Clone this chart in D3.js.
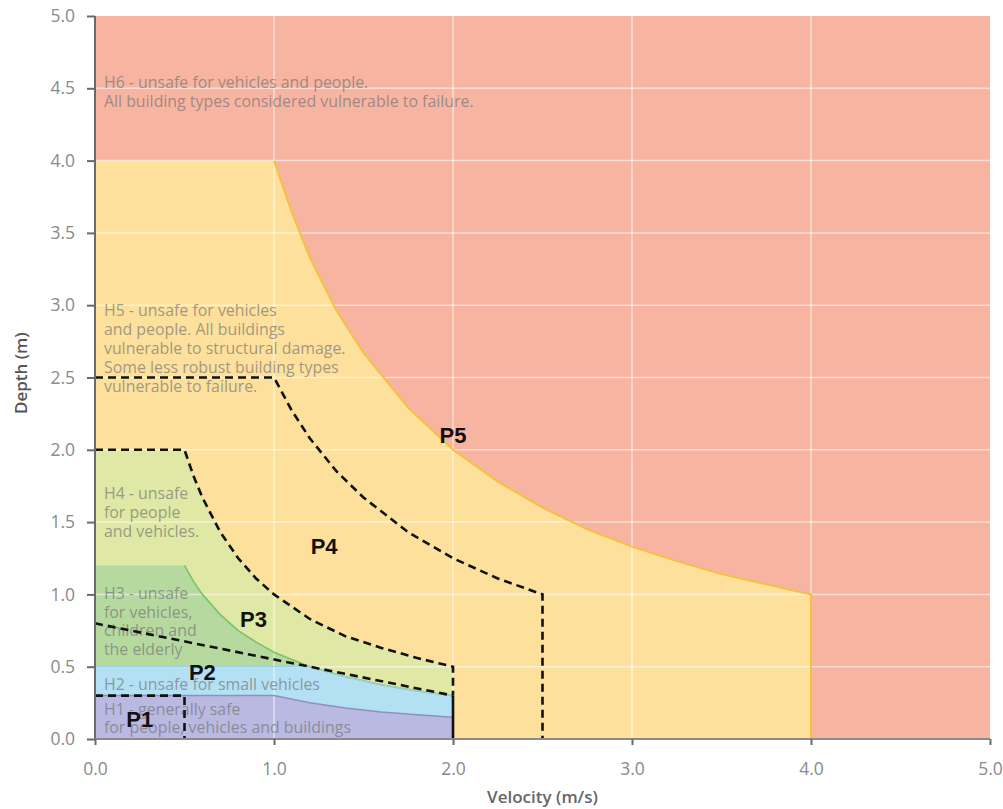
<!DOCTYPE html>
<html><head><meta charset="utf-8">
<script src="https://cdn.jsdelivr.net/npm/d3@7"></script>
<style>
body{margin:0;background:#fff;}
svg{display:block;font-family:"Open Sans",sans-serif;}
</style>
</head><body>
<svg id="chart" width="1003" height="809"></svg>
<script>
// ---- data (velocity m/s, depth m) ----
const velocityTicks = [0, 1, 2, 3, 4, 5];
const depthTicks = [0, 0.5, 1, 1.5, 2, 2.5, 3, 3.5, 4, 4.5, 5];

// hazard zone upper boundaries
const h5V = [0, 1.0, 1.1, 1.2, 1.35, 1.5, 1.75, 2.0, 2.25, 2.5, 2.75, 3.0, 3.25, 3.5, 3.75, 4.0, 4.0];
const h5D = [4.0, 4.0, 3.64, 3.33, 2.96, 2.67, 2.29, 2.0, 1.78, 1.6, 1.45, 1.33, 1.23, 1.14, 1.07, 1.0, 0];
const h4V = [0, 0.5, 0.55, 0.6, 0.7, 0.8, 0.9, 1.0, 1.2, 1.4, 1.6, 1.8, 2.0, 2.0];
const h4D = [2.0, 2.0, 1.82, 1.67, 1.43, 1.25, 1.11, 1.0, 0.83, 0.71, 0.63, 0.56, 0.5, 0];
const h3V = [0, 0.5, 0.55, 0.6, 0.7, 0.8, 0.9, 1.0, 1.2, 1.4, 1.6, 1.8, 2.0, 2.0];
const h3D = [1.2, 1.2, 1.09, 1.0, 0.86, 0.75, 0.67, 0.6, 0.5, 0.43, 0.375, 0.333, 0.3, 0];
const h2V = [0, 1.2, 1.4, 1.6, 1.8, 2.0, 2.0];
const h2D = [0.5, 0.5, 0.43, 0.375, 0.333, 0.3, 0];
const h1V = [0, 1.0, 1.2, 1.4, 1.6, 1.8, 2.0, 2.0];
const h1D = [0.3, 0.3, 0.25, 0.214, 0.1875, 0.167, 0.15, 0];

// P category dashed boundaries
const p1V = [0, 0.5, 0.5];
const p1D = [0.3, 0.3, 0];
const p2V = [0, 2.0];
const p2D = [0.8, 0.3];
const p2SolidV = [2.0, 2.0];
const p2SolidD = [0.3, 0];
const p3V = [0, 0.5, 0.55, 0.6, 0.7, 0.8, 0.9, 1.0, 1.2, 1.4, 1.6, 1.8, 2.0, 2.0];
const p3D = [2.0, 2.0, 1.82, 1.67, 1.43, 1.25, 1.11, 1.0, 0.83, 0.71, 0.63, 0.56, 0.5, 0.3];
const p4V = [0, 1.0, 1.1, 1.2, 1.35, 1.5, 1.75, 2.0, 2.25, 2.5, 2.5];
const p4D = [2.5, 2.5, 2.27, 2.08, 1.85, 1.67, 1.43, 1.25, 1.11, 1.0, 0];

const pLabels = ["P1", "P2", "P3", "P4", "P5"];
const zoneTexts = [
  ["H6 - unsafe for vehicles and people.", "All building types considered vulnerable to failure."],
  ["H5 - unsafe for vehicles", "and people. All buildings", "vulnerable to structural damage.", "Some less robust building types", "vulnerable to failure."],
  ["H4 - unsafe", "for people", "and vehicles."],
  ["H3 - unsafe", "for vehicles,", "children and", "the elderly"],
  ["H2 - unsafe for small vehicles"],
  ["H1 - generally safe", "for people, vehicles and buildings"]
];

// ---- layout ----
const svg = d3.select("#chart");
const x = d3.scaleLinear().domain([0, 5]).range([95, 990]);
const y = d3.scaleLinear().domain([0, 5]).range([739, 16]);
const zip = (vs, ds) => vs.map((v, i) => [v, ds[i]]);
const line = d3.line().x(d => x(d[0])).y(d => y(d[1]));
const poly = pts => line([[0, 0], ...pts, [0, 0]]) + "Z";

// background H6
svg.append("rect").attr("x", x(0)).attr("y", y(5))
  .attr("width", x(5) - x(0)).attr("height", y(0) - y(5)).attr("fill", "#f7b4a1");

const zones = [
  {pts: zip(h5V, h5D), fill: "#fde09b"},
  {pts: zip(h4V, h4D), fill: "#dfe8a4"},
  {pts: zip(h3V, h3D), fill: "#b6d9a0"},
  {pts: zip(h2V, h2D), fill: "#b4e0f3"},
  {pts: zip(h1V, h1D), fill: "#b9b9e2"}
];
svg.selectAll("path.zone").data(zones).join("path").attr("class", "zone")
  .attr("d", d => poly(d.pts)).attr("fill", d => d.fill);

// grid
const grid = svg.append("g").attr("stroke", "#fff").attr("stroke-opacity", 0.55).attr("stroke-width", 1.5);
grid.selectAll("line.h").data(depthTicks.filter(d => d > 0 && d < 5)).join("line")
  .attr("x1", x(0)).attr("x2", x(5)).attr("y1", d => y(d)).attr("y2", d => y(d));
grid.selectAll("line.v").data(velocityTicks.filter(d => d > 0 && d < 5)).join("line").attr("class", "v")
  .attr("y1", y(0)).attr("y2", y(5)).attr("x1", d => x(d)).attr("x2", d => x(d));

// zone boundary strokes
svg.append("path").attr("d", line(zip(h5V, h5D).slice(1))).attr("fill", "none")
  .attr("stroke", "#f2c240").attr("stroke-width", 2);
svg.append("path").attr("d", line(zip(h3V, h3D).slice(1, -1))).attr("fill", "none")
  .attr("stroke", "#7cc26a").attr("stroke-width", 1.6);
svg.append("path").attr("d", line(zip(h2V, h2D).slice(0, -1))).attr("fill", "none")
  .attr("stroke", "#9fd0e6").attr("stroke-width", 1.2);
svg.append("path").attr("d", line(zip(h1V, h1D).slice(0, -1))).attr("fill", "none")
  .attr("stroke", "#9090c0").attr("stroke-width", 1.5);

// zone texts
const textLayout = [
  {d: 4.502, lh: 19}, {d: 2.925, lh: 19}, {d: 1.66, lh: 19},
  {d: 0.968, lh: 18.7}, {d: 0.339, lh: 18}, {d: 0.166, lh: 18}
];
const tg = svg.append("g").attr("fill", "#737373").attr("fill-opacity", 0.68)
  .attr("font-size", "15.9px");
zoneTexts.forEach((lines, i) => {
  const t = tg.append("text").attr("x", x(0.05)).attr("y", y(textLayout[i].d));
  lines.forEach((s, j) => t.append("tspan").attr("x", x(0.05))
    .attr("y", y(textLayout[i].d) + j * textLayout[i].lh).text(s));
});

// dashed P boundaries
const dash = svg.append("g").attr("fill", "none").attr("stroke", "#111")
  .attr("stroke-width", 2.6).attr("stroke-dasharray", "8,5");
[zip(p1V, p1D), zip(p2V, p2D), zip(p3V, p3D), zip(p4V, p4D)].forEach(p =>
  dash.append("path").attr("d", line(p)));
svg.append("path").attr("d", line(zip(p2SolidV, p2SolidD))).attr("stroke", "#111")
  .attr("stroke-width", 2.6).attr("fill", "none");

// P labels
const pPos = [[0.25, 0.08], [0.6, 0.41], [0.885, 0.775], [1.28, 1.28], [2.0, 2.05]];
svg.append("g").attr("font-family", "'Liberation Sans', Arial, sans-serif")
  .attr("font-weight", "bold").attr("font-size", "22px").attr("fill", "#111")
  .attr("text-anchor", "middle")
  .selectAll("text").data(pLabels).join("text")
  .attr("x", (d, i) => x(pPos[i][0])).attr("y", (d, i) => y(pPos[i][1])).text(d => d);

// axes
const fmt = d3.format(".1f");
const yAxis = svg.append("g").attr("transform", `translate(${x(0)},0)`)
  .call(d3.axisLeft(y).tickValues(depthTicks).tickFormat(fmt).tickSize(8).tickPadding(12));
const xAxis = svg.append("g").attr("transform", `translate(0,${y(0)})`)
  .call(d3.axisBottom(x).tickValues(velocityTicks).tickFormat(fmt).tickSize(6).tickPadding(18));
[yAxis, xAxis].forEach(a => {
  a.select(".domain").attr("stroke", "#6a6a6a").attr("stroke-width", 2);
  a.selectAll(".tick line").attr("stroke", "#6a6a6a").attr("stroke-width", 2);
  a.selectAll(".tick text").attr("fill", "#8a8a8a").attr("font-size", "17.5px")
    .attr("font-family", "'Open Sans', sans-serif");
});
xAxis.select(".domain").attr("d", `M${x(0)},0H${x(5)}`).attr("stroke", "#8a8a8a");
yAxis.select(".domain").attr("d", `M0,${y(5)}V${y(0)}`);

// axis titles
svg.append("text").attr("x", x(2.5)).attr("y", 803).attr("text-anchor", "middle")
  .attr("font-size", "17px").attr("font-weight", 600).attr("fill", "#666").text("Velocity (m/s)");
svg.append("text").attr("transform", `translate(27,${y(2.53)}) rotate(-90)`)
  .attr("text-anchor", "middle").attr("font-size", "17px").attr("font-weight", 600)
  .attr("fill", "#555").text("Depth (m)");
</script>
</body></html>
